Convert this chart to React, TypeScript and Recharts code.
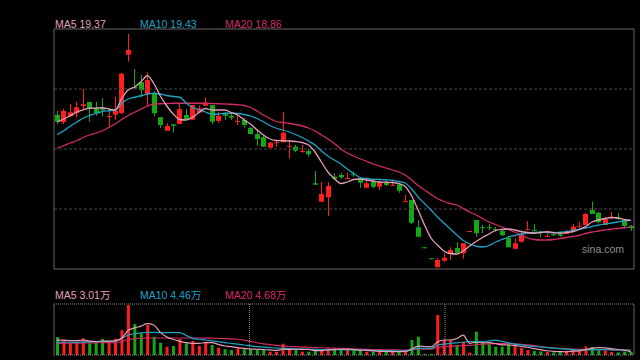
import React from "react";
import { ComposedChart, Bar, Line, XAxis, YAxis, ReferenceLine, Cell } from "recharts";

// daily K-line, oldest first
const open = [
  27.82, 27.24, 27.72, 27.96, 28.54, 28.86, 28.36, 28.36, 27.68, 27.84,
  27.98, 32.64, 30.06, 30.44, 29.48, 29.56, 27.64, 26.56, 27.08, 27.1,
  27.82, 27.44, 28.02, 28.56, 28.62, 27.34, 27.96, 27.76, 27.26, 27.42,
  26.8, 26.3, 26.04, 25.2, 25.56, 25.64, 25.28, 25.28, 24.86, 24.94,
  22.36, 20.88, 21.24, 22.88, 23.02, 22.72, 23.1, 22.76, 22.0, 22.48,
  22.08, 22.4, 22.2, 22.28, 20.86, 21.02, 18.84, 17.24, 16.36, 15.64,
  16.16, 16.68, 17.18, 16.76, 18.54, 19.42, 18.84, 18.84, 18.7, 18.54,
  18.0, 17.12, 17.68, 18.62, 18.64, 18.48, 18.12, 18.28, 18.28, 18.3,
  18.54, 18.88, 19.02, 20.22, 20.0, 19.02, 19.58, 19.6, 19.42, 18.94,
];
const high = [
  28.16, 28.3, 28.7, 28.88, 29.9, 28.86, 28.88, 29.16, 28.16, 29.28,
  31.2, 34.3, 31.5, 31.02, 31.24, 29.72, 27.64, 27.16, 27.08, 28.7,
  28.3, 28.62, 28.58, 29.24, 28.62, 28.08, 28.0, 28.0, 27.82, 27.6,
  26.82, 26.68, 26.14, 25.68, 25.82, 28.08, 25.82, 25.42, 25.42, 25.1,
  23.34, 22.46, 22.46, 23.16, 23.2, 23.2, 23.28, 22.76, 22.76, 22.62,
  22.56, 22.64, 22.56, 22.36, 21.42, 21.02, 19.42, 17.24, 16.36, 16.36,
  16.8, 17.24, 17.64, 17.56, 18.54, 19.42, 19.02, 19.1, 18.88, 18.72,
  18.14, 17.96, 18.54, 19.34, 19.08, 18.56, 18.36, 18.36, 18.4, 18.62,
  19.1, 19.28, 20.0, 20.88, 20.08, 19.68, 20.08, 19.96, 19.42, 19.02,
];
const low = [
  27.1, 27.1, 27.64, 27.64, 28.3, 27.28, 27.76, 27.72, 26.84, 27.44,
  27.88, 32.08, 29.96, 29.24, 28.52, 27.72, 26.78, 26.56, 26.44, 27.1,
  27.44, 27.44, 27.96, 28.56, 27.08, 27.16, 27.42, 27.42, 27.02, 26.8,
  26.28, 25.36, 25.28, 25.2, 25.28, 25.64, 24.36, 24.84, 24.8, 24.48,
  22.24, 20.88, 19.74, 22.62, 22.68, 22.72, 22.88, 22.0, 22.0, 21.96,
  21.82, 22.14, 22.14, 21.6, 20.86, 19.1, 18.04, 17.24, 16.36, 15.64,
  16.08, 16.22, 16.76, 16.32, 18.54, 18.08, 18.36, 18.62, 18.48, 18.14,
  17.24, 17.08, 17.6, 18.62, 18.56, 18.04, 18.04, 18.14, 18.08, 18.3,
  18.54, 18.8, 19.02, 19.9, 19.16, 19.02, 19.48, 19.42, 18.84, 18.54,
];
const close = [
  27.28, 28.14, 28.04, 28.44, 28.68, 28.36, 27.98, 28.22, 27.74, 28.16,
  31.12, 33.02, 29.96, 29.82, 30.62, 27.96, 27.02, 26.94, 26.96, 28.3,
  27.5, 28.62, 28.34, 28.8, 27.28, 27.76, 27.76, 27.6, 27.34, 27.02,
  26.3, 25.9, 25.28, 25.6, 25.64, 26.4, 25.36, 24.96, 24.94, 24.68,
  22.24, 21.5, 22.14, 22.72, 22.84, 22.78, 23.02, 22.4, 22.36, 22.08,
  22.44, 22.22, 22.24, 21.76, 20.92, 19.2, 18.08, 17.24, 16.36, 16.22,
  16.4, 17.02, 16.8, 17.56, 18.54, 18.36, 18.76, 18.76, 18.64, 18.2,
  17.24, 17.56, 18.3, 18.68, 18.56, 18.36, 18.16, 18.2, 18.16, 18.48,
  18.88, 18.96, 19.9, 19.9, 19.24, 19.5, 19.68, 19.5, 18.94, 18.76,
];
const ma5 = [
  27.28, 27.5, 27.76, 28.04, 28.22, 28.36, 28.38, 28.4, 28.3, 28.22,
  29.14, 29.82, 30.06, 30.48, 30.96, 30.34, 29.34, 28.54, 27.9, 27.46,
  27.42, 27.64, 28.02, 28.34, 28.22, 28.22, 28.22, 28.02, 27.82, 27.42,
  27.1, 26.62, 26.22, 25.9, 25.78, 25.76, 25.74, 25.7, 25.62, 25.42,
  24.86, 24.06, 23.26, 22.74, 22.34, 22.46, 22.66, 22.7, 22.62, 22.54,
  22.46, 22.44, 22.42, 22.34, 22.1, 21.34, 20.22, 19.02, 17.98, 17.42,
  16.94, 16.74, 16.7, 16.94, 17.34, 17.7, 18.02, 18.3, 18.58, 18.66,
  18.7, 18.62, 18.5, 18.42, 18.36, 18.42, 18.48, 18.42, 18.36, 18.42,
  18.48, 18.66, 18.9, 19.26, 19.42, 19.54, 19.62, 19.58, 19.46, 19.37,
];
const ma10 = [
  26.26, 26.56, 26.92, 27.24, 27.56, 27.78, 27.94, 28.1, 28.16, 28.2,
  28.74, 29.1, 29.24, 29.36, 29.5, 29.56, 29.5, 29.38, 29.3, 29.24,
  28.78, 28.42, 28.26, 28.06, 27.88, 27.9, 27.96, 27.96, 27.94, 27.86,
  27.74, 27.54, 27.28, 26.98, 26.76, 26.62, 26.46, 26.26, 26.02, 25.74,
  25.42, 24.94, 24.54, 24.22, 23.9, 23.5, 23.14, 22.82, 22.74, 22.68,
  22.66, 22.64, 22.6, 22.5, 22.38, 21.9, 21.26, 20.74, 20.22, 19.66,
  19.18, 18.7, 18.22, 17.78, 17.5, 17.32, 17.26, 17.38, 17.66, 17.86,
  18.06, 18.18, 18.3, 18.38, 18.42, 18.44, 18.42, 18.4, 18.44, 18.48,
  18.58, 18.68, 18.78, 18.9, 19.02, 19.1, 19.18, 19.26, 19.34, 19.43,
];
const ma20 = [
  25.18, 25.36, 25.58, 25.76, 26.02, 26.22, 26.38, 26.56, 26.82, 27.1,
  27.46, 27.78, 28.04, 28.3, 28.54, 28.7, 28.72, 28.74, 28.76, 28.76,
  28.76, 28.76, 28.76, 28.76, 28.74, 28.72, 28.7, 28.68, 28.64, 28.58,
  28.42, 28.14, 27.82, 27.54, 27.3, 27.22, 27.16, 27.06, 26.94, 26.78,
  26.54, 26.22, 25.9, 25.54, 25.1, 24.78, 24.54, 24.32, 24.12, 23.9,
  23.74, 23.58, 23.42, 23.26, 23.02, 22.62, 22.18, 21.82, 21.46, 21.14,
  20.9, 20.74, 20.62, 20.34, 20.06, 19.82, 19.54, 19.26, 19.06, 18.86,
  18.66, 18.46, 18.22, 17.98, 17.86, 17.82, 17.82, 17.86, 17.94, 18.02,
  18.1, 18.18, 18.34, 18.46, 18.54, 18.62, 18.7, 18.74, 18.8, 18.86,
];

// volume in 万 shares
const volume = [
  16.9, 14.1, 11.6, 12.5, 15.7, 11.0, 11.6, 15.0, 11.6, 15.3,
  23.5, 47.0, 29.1, 20.4, 28.2, 17.2, 11.6, 7.8, 8.5, 15.0,
  11.0, 13.2, 8.7, 12.5, 9.4, 6.9, 5.4, 4.7, 6.3, 5.4,
  5.4, 5.4, 4.7, 3.1, 3.1, 10.6, 4.7, 5.4, 3.1, 3.1,
  4.7, 4.7, 6.3, 6.3, 5.4, 4.7, 4.7, 4.0, 3.1, 3.1,
  3.1, 3.1, 3.1, 3.1, 4.0, 14.1, 17.2, 0.9, 0.9, 37.6,
  14.1, 14.1, 9.4, 12.5, 2.2, 21.9, 11.0, 10.1, 7.8, 7.8,
  10.3, 8.5, 6.6, 4.7, 3.8, 3.3, 2.8, 2.4, 2.8, 3.8,
  4.7, 3.8, 8.0, 7.5, 5.6, 3.8, 2.8, 2.4, 3.3, 2.8,
];
const vma5 = [
  14.0, 14.0, 13.6, 13.6, 14.1, 13.1, 12.7, 13.2, 13.0, 13.4,
  15.7, 23.0, 25.5, 27.2, 29.6, 28.3, 21.3, 17.0, 14.6, 13.0,
  11.6, 11.0, 11.0, 11.6, 11.6, 10.0, 8.5, 7.8, 6.9, 6.3,
  5.6, 5.4, 5.2, 4.8, 4.3, 5.4, 5.3, 5.4, 5.3, 5.3,
  4.2, 4.2, 4.7, 5.0, 5.4, 5.5, 5.2, 4.6, 4.4, 3.9,
  3.5, 3.3, 3.1, 3.1, 3.3, 5.5, 8.3, 8.0, 7.6, 12.2,
  14.1, 14.1, 15.5, 18.8, 11.0, 12.0, 11.5, 11.6, 10.8, 9.5,
  9.4, 9.0, 8.0, 7.3, 6.0, 5.0, 4.0, 3.5, 3.2, 3.0,
  3.6, 3.9, 5.0, 6.4, 6.9, 6.7, 6.0, 5.2, 4.5, 3.01,
];
const vma10 = [
  12.2, 12.0, 12.0, 11.9, 12.2, 12.3, 12.5, 12.7, 12.8, 13.0,
  15.5, 18.8, 20.0, 20.8, 21.3, 21.3, 21.0, 21.0, 21.0, 21.0,
  18.5, 15.7, 14.8, 14.1, 13.3, 12.5, 11.6, 11.0, 10.2, 9.4,
  8.5, 7.8, 7.5, 7.0, 6.5, 6.3, 6.0, 5.8, 5.5, 5.4,
  5.3, 5.1, 5.0, 5.0, 5.0, 4.8, 4.7, 4.6, 4.5, 4.4,
  4.2, 4.1, 4.0, 3.9, 3.9, 5.0, 6.3, 6.2, 6.1, 9.4,
  10.2, 11.0, 11.5, 12.0, 12.5, 12.5, 12.5, 13.3, 14.0, 12.8,
  11.5, 10.3, 9.5, 8.7, 8.0, 7.6, 7.0, 6.5, 6.0, 5.5,
  5.0, 4.6, 4.8, 5.0, 5.2, 5.0, 4.9, 4.8, 4.6, 4.46,
];
const vma20 = [
  11.0, 11.0, 11.1, 11.2, 11.3, 11.4, 11.5, 11.6, 11.7, 11.8,
  12.8, 14.5, 15.5, 15.8, 16.0, 16.0, 16.0, 16.0, 16.0, 16.0,
  16.0, 16.0, 16.0, 15.9, 15.8, 15.7, 15.5, 15.2, 14.8, 14.0,
  12.8, 11.5, 10.5, 9.7, 9.0, 8.5, 8.0, 7.8, 7.5, 7.2,
  7.0, 6.8, 6.6, 6.4, 6.2, 5.8, 5.6, 5.5, 5.3, 5.1,
  5.0, 4.9, 4.8, 4.7, 4.6, 5.0, 5.5, 5.5, 5.5, 7.3,
  7.8, 8.2, 8.5, 9.0, 9.0, 9.8, 10.2, 10.5, 10.7, 10.7,
  10.7, 10.5, 10.0, 9.5, 8.8, 8.0, 7.2, 6.6, 6.2, 5.8,
  5.5, 5.3, 5.2, 5.1, 5.0, 4.9, 4.8, 4.75, 4.7, 4.68,
];

const priceDomain = [15.5, 34.7];
const priceGrid = [20.3, 25.1, 29.9];
const volDomain = [0, 48];
const periodBreaks = [30, 60];

const RED = "#ff1e1e";
const GREEN = "#14a814";
const C5 = "#e3a0b6";
const C10 = "#1ea3c4";
const C20 = "#d12c64";
const FRAME = "#666";
const DOTS = "#8c8c8c";

const rows = open.map((o, i) => {
  const prev = i > 0 ? close[i - 1] : o;
  const up = close[i] > o || (close[i] === o && close[i] >= prev);
  return {
    i,
    open: o,
    high: high[i],
    low: low[i],
    close: close[i],
    up,
    ma5: ma5[i],
    ma10: ma10[i],
    ma20: ma20[i],
    vol: volume[i],
    vma5: vma5[i],
    vma10: vma10[i],
    vma20: vma20[i],
  };
});

function Candle(props: any) {
  const { x, y, width, height, payload } = props;
  const { open, close, high, low, up } = payload;
  const color = up ? RED : GREEN;
  const span = high - low;
  const py = (v: number) => (span > 0 ? y + ((high - v) / span) * height : y);
  const cx = Math.floor(x + width / 2) + 0.5;
  const top = Math.min(py(open), py(close));
  const bot = Math.max(py(open), py(close));
  return (
    <g>
      <line x1={cx} x2={cx} y1={y} y2={y + Math.max(height, 1)} stroke={color} strokeWidth={1} />
      <rect x={Math.round(x)} y={top} width={width} height={Math.max(bot - top, 1)} fill={color} />
    </g>
  );
}

const legendFont: React.CSSProperties = {
  position: "absolute",
  fontFamily: "'Liberation Sans', Arial, 'Noto Sans CJK SC', sans-serif",
  fontSize: 10.5,
  lineHeight: "12px",
  whiteSpace: "nowrap",
};

export default function App() {
  return (
    <div style={{ position: "absolute", left: 0, top: 0, width: 640, height: 360, background: "#000", overflow: "hidden" }}>
      <div style={{ ...legendFont, left: 55, top: 18, color: C5 }}>MA5 19.37</div>
      <div style={{ ...legendFont, left: 140, top: 18, color: C10 }}>MA10 19.43</div>
      <div style={{ ...legendFont, left: 225, top: 18, color: C20 }}>MA20 18.86</div>

      <div style={{ position: "absolute", left: 0, top: 0 }}>
        <ComposedChart width={640} height={280} data={rows} margin={{ top: 28, right: 5, bottom: 10, left: 53 }}>
          <XAxis dataKey="i" tick={false} tickLine={false} axisLine={{ stroke: FRAME }} height={1} />
          <XAxis xAxisId="top" orientation="top" dataKey="i" tick={false} tickLine={false} axisLine={{ stroke: FRAME }} height={1} />
          <YAxis domain={priceDomain} allowDataOverflow width={1} tick={false} tickLine={false} axisLine={{ stroke: FRAME }} />
          <YAxis yAxisId="right" orientation="right" domain={priceDomain} width={1} tick={false} tickLine={false} axisLine={{ stroke: FRAME }} />
          {priceGrid.map((v) => (
            <ReferenceLine key={v} y={v} stroke="#4a4a4a" strokeDasharray="3 2" />
          ))}
          <Bar dataKey={(d: any) => [d.low, d.high]} barSize={5} shape={<Candle />} isAnimationActive={false} />
          <Line type="monotone" dataKey="ma20" stroke={C20} strokeWidth={1.3} dot={false} isAnimationActive={false} />
          <Line type="monotone" dataKey="ma10" stroke={C10} strokeWidth={1.3} dot={false} isAnimationActive={false} />
          <Line type="monotone" dataKey="ma5" stroke={C5} strokeWidth={1.3} dot={false} isAnimationActive={false} />
        </ComposedChart>
      </div>

      <div style={{ ...legendFont, left: 582, top: 243, color: "#8d8d8d" }}>sina.com</div>

      <div style={{ ...legendFont, left: 55, top: 289, color: C5 }}>MA5 3.01万</div>
      <div style={{ ...legendFont, left: 140, top: 289, color: C10 }}>MA10 4.46万</div>
      <div style={{ ...legendFont, left: 225, top: 289, color: C20 }}>MA20 4.68万</div>

      <div style={{ position: "absolute", left: 0, top: 280 }}>
        <ComposedChart width={640} height={80} data={rows} margin={{ top: 23, right: 5, bottom: 4, left: 53 }}>
          <XAxis dataKey="i" tick={false} tickLine={false} axisLine={{ stroke: DOTS, strokeDasharray: "1 1" }} height={1} />
          <XAxis xAxisId="top" orientation="top" dataKey="i" tick={false} tickLine={false} axisLine={{ stroke: DOTS, strokeDasharray: "1 1" }} height={1} />
          <XAxis xAxisId="num" type="number" domain={[0, rows.length]} allowDataOverflow hide />
          <YAxis domain={volDomain} allowDataOverflow width={1} tick={false} tickLine={false} axisLine={{ stroke: FRAME }} />
          <YAxis yAxisId="right" orientation="right" domain={volDomain} width={1} tick={false} tickLine={false} axisLine={{ stroke: FRAME }} />
          {periodBreaks.map((v) => (
            <ReferenceLine key={v} xAxisId="num" x={v} stroke={DOTS} strokeDasharray="1 1" />
          ))}
          <Bar dataKey="vol" barSize={3} isAnimationActive={false}>
            {rows.map((r) => (
              <Cell key={r.i} fill={r.up ? RED : GREEN} />
            ))}
          </Bar>
          <Line type="monotone" dataKey="vma20" stroke={C20} strokeWidth={1.2} dot={false} isAnimationActive={false} />
          <Line type="monotone" dataKey="vma10" stroke={C10} strokeWidth={1.2} dot={false} isAnimationActive={false} />
          <Line type="monotone" dataKey="vma5" stroke={C5} strokeWidth={1.2} dot={false} isAnimationActive={false} />
        </ComposedChart>
      </div>
    </div>
  );
}
